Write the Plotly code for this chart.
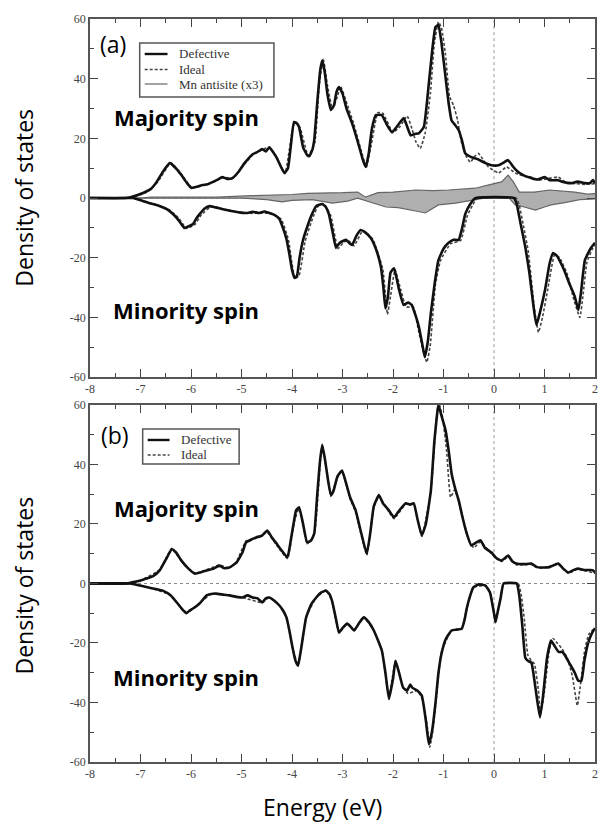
import plotly.graph_objects as go

# ---------------- data ----------------
# Panel (a) majority spin, defective
a_maj_def_E = [-8.0, -7.3, -7.2, -6.95, -6.8, -6.68, -6.55, -6.42, -6.3, -6.19, -6.08, -5.99, -5.88, -5.77, -5.67,
               -5.57, -5.47, -5.38, -5.28, -5.18, -5.05, -4.94, -4.85, -4.78, -4.68, -4.59, -4.52, -4.45, -4.38,
               -4.31, -4.22, -4.15, -4.08, -4.02, -3.96, -3.9, -3.86, -3.78, -3.70, -3.66, -3.6, -3.56, -3.5,
               -3.44, -3.40, -3.35, -3.3, -3.23, -3.17, -3.12, -3.07, -3.0, -2.92, -2.81, -2.7, -2.6, -2.54,
               -2.48, -2.42, -2.34, -2.22, -2.12, -2.02, -1.92, -1.79, -1.72, -1.65, -1.57, -1.49, -1.39, -1.29,
               -1.22, -1.16, -1.10, -1.04, -0.96, -0.9, -0.84, -0.77, -0.70, -0.63, -0.57, -0.45, -0.32, -0.17,
               -0.05, 0.09, 0.18, 0.28, 0.38, 0.48, 0.6, 0.74, 0.85, 1.01, 1.1, 1.27, 1.35, 1.53, 1.65, 1.80,
               1.9, 1.96, 2.0]
a_maj_def_D = [0, 0, 0.3, 1.7, 3, 5.4, 9, 11.7, 10, 7.7, 5, 3.4, 3.8, 4.4, 4.6,
               5.4, 6.2, 7, 6.4, 6.7, 9, 11.7, 13.5, 14.7, 15.5, 16.4, 15.6, 17, 15.5,
               13.7, 10.5, 8.4, 10, 18, 25.5, 25, 23.8, 17, 14.4, 14, 16, 19.4, 32,
               43, 46.2, 42, 35, 29.5, 31, 35.5, 37.2, 35, 30, 25, 19, 13, 10.4,
               15, 23, 27.8, 27.8, 24.5, 22, 24, 26.8, 24, 21, 21.5, 21.7, 23.8, 38.5,
               50, 57.3, 58, 52, 40.5, 32, 26, 24.5, 22.8, 19, 15, 13.7, 13, 11.7,
               11, 11, 11.8, 12.7, 10.5, 8.7, 7.5, 6.7, 6.2, 7, 6, 6, 5.5, 5, 5.5, 5,
               5, 6, 5]

# Panel (a) majority spin, ideal
a_maj_id_E = [-8.0, -7.25, -7.1, -6.9, -6.66, -6.4, -6.18, -5.98, -5.76, -5.56, -5.37, -5.17, -4.93, -4.77,
              -4.58, -4.44, -4.3, -4.14, -4.0, -3.94, -3.84, -3.68, -3.55, -3.46, -3.38, -3.3, -3.2, -3.1,
              -3.04, -2.9, -2.78, -2.6, -2.53, -2.44, -2.3, -2.2, -2.0, -1.86, -1.72, -1.62, -1.55, -1.46,
              -1.36, -1.26, -1.18, -1.1, -1.04, -0.96, -0.88, -0.8, -0.72, -0.64, -0.55, -0.47, -0.38, -0.31,
              -0.2, -0.11, 0.0, 0.09, 0.25, 0.42, 0.6, 0.74, 0.9, 1.05, 1.27, 1.45, 1.62, 1.8, 2.0]
a_maj_id_D = [0, 0, 0.6, 1.8, 5.4, 11.8, 7.8, 3.4, 4.3, 5.3, 7, 6.6, 11.6, 14.6,
              16.3, 17, 13.6, 8.2, 22, 25.5, 23.5, 14.2, 18.5, 38, 46.5, 38, 30, 34,
              37.5, 31, 25, 14, 10.2, 17, 28.6, 28.4, 22, 24, 27.5, 23, 19, 16.6,
              22, 35, 52, 59, 57, 48, 34, 31, 26, 18.4, 14, 12, 14, 15,
              12.5, 10.4, 9.2, 8.4, 10.4, 8.4, 7.3, 7, 6, 6.5, 7, 5, 4.8, 4.6, 4.8]

# Panel (a) minority spin, defective
a_min_def_E = [-8.0, -7.2, -7.15, -6.98, -6.82, -6.65, -6.48, -6.38, -6.28, -6.2, -6.13, -6.05, -5.96, -5.9,
               -5.83, -5.73, -5.63, -5.55, -5.44, -5.3, -5.18, -5.05, -4.90, -4.78, -4.65, -4.55, -4.45, -4.35,
               -4.25, -4.18, -4.11, -4.05, -4.0, -3.95, -3.90, -3.85, -3.78, -3.72, -3.62, -3.52, -3.40, -3.33,
               -3.27, -3.2, -3.13, -3.08, -3.03, -2.93, -2.87, -2.81, -2.72, -2.64, -2.55, -2.44, -2.34, -2.24,
               -2.19, -2.15, -2.1, -2.05, -1.98, -1.94, -1.89, -1.79, -1.70, -1.63, -1.56, -1.49, -1.42, -1.37,
               -1.31, -1.25, -1.17, -1.10, -1.0, -0.90, -0.80, -0.70, -0.63, -0.57, -0.47, -0.37, 0.40, 0.45,
               0.52, 0.62, 0.7, 0.78, 0.84, 0.9, 1.01, 1.1, 1.17, 1.25, 1.33, 1.41, 1.5, 1.6, 1.67, 1.72,
               1.80, 1.92, 2.0]
a_min_def_D = [0, 0, 0, -0.8, -1.7, -2.5, -3.7, -5, -6.7, -8.5, -10, -9.5, -8.7, -7,
               -5.4, -3.5, -2.7, -3, -3.4, -4, -4.4, -4.8, -5, -4.6, -5, -4.5, -5, -5.6,
               -7, -10, -13.7, -19, -24, -26.8, -26, -20, -14, -10.7, -6, -2.7, -2, -3,
               -5.4, -11, -16.7, -15.5, -14.7, -14, -15, -15.7, -12.5, -10.7, -11.5, -13.4, -17, -23,
               -30, -37, -33, -25, -23.5, -26, -30, -35.8, -35, -35.8, -39, -43, -49, -53.3,
               -48, -38.5, -28, -20.8, -17, -15, -14, -14, -10, -5.4, -2, 0, 0, -2,
               -8, -16.4, -25, -36, -42.5, -39, -30.8, -22, -18.4, -19.5, -22, -25, -29, -33, -37.5, -32,
               -20.8, -16.7, -15]

# Panel (a) minority spin, ideal
a_min_id_E = [-8.0, -7.15, -6.95, -6.78, -6.44, -6.24, -6.09, -5.92, -5.79, -5.59, -5.4, -5.14, -4.86, -4.61,
              -4.41, -4.21, -4.07, -4.0, -3.94, -3.86, -3.74, -3.58, -3.46, -3.36, -3.23, -3.09, -2.99, -2.89,
              -2.77, -2.6, -2.4, -2.2, -2.11, -2.05, -1.96, -1.85, -1.74, -1.6, -1.5, -1.42, -1.33, -1.26,
              -1.16, -1.06, -0.86, -0.66, -0.53, -0.42, -0.33, 0.44, 0.5, 0.58, 0.68, 0.8, 0.88, 0.96,
              1.06, 1.2, 1.3, 1.45, 1.58, 1.7, 1.76, 1.84, 1.95, 2.0]
a_min_id_D = [0, 0, -0.9, -1.8, -3.8, -6.8, -10.2, -8.8, -5.5, -2.8, -3.5, -4.5, -5.1, -5.1,
              -5.1, -7.2, -14, -22, -27, -26, -14.5, -6.2, -2.1, -2.2, -6, -17, -15, -14.2,
              -16, -11, -13.8, -24, -39, -33, -24, -30.5, -36.5, -36.5, -44, -50, -55, -49,
              -29, -21, -15.3, -14.2, -6, -2.2, 0, 0, -2.4, -9, -18, -37, -45, -40,
              -31, -19, -20, -25.5, -34, -40, -33, -21.5, -17, -15.5]

# Panel (a) Mn antisite (x3)
a_mn_maj_E = [-8.0, -7.0, -6.8, -6.2, -5.5, -4.8, -4.3, -4.0, -3.7, -3.4, -3.0, -2.7, -2.54, -2.3, -2.0, -1.55,
              -1.2, -0.9, -0.6, -0.37, -0.1, 0.15, 0.28, 0.38, 0.5, 0.8, 1.1, 1.4, 1.6, 1.85, 2.0]
a_mn_maj_D = [0, 0, 0.3, 0.2, 0.3, 0.8, 1.0, 1.2, 1.6, 1.6, 1.8, 2.0, 0.3, 1.8, 2.0, 2.7,
              2.5, 2.7, 3.0, 3.3, 4.4, 5.4, 7.7, 5.5, 2.0, 2.0, 2.7, 2.3, 2.0, 1.3, 1.5]
a_mn_min_E = [-8.0, -5.0, -4.5, -4.2, -4.0, -3.6, -3.2, -2.9, -2.7, -2.4, -2.14, -1.9, -1.69, -1.5, -1.36,
              -1.2, -1.1, -0.76, -0.4, -0.2, 0.3, 0.42, 0.6, 0.82, 1.0, 1.13, 1.4, 1.7, 2.0]
a_mn_min_D = [0, 0, -0.5, -1.3, -0.8, -0.5, -1.7, -1.0, 0, -1.5, -3.0, -3.2, -4.0, -4.5, -5.0,
              -3.5, -2.3, -1.7, -0.5, 0, 0, -2.3, -3.0, -4.0, -3.0, -2.3, -1.5, -0.5, -0.3]

# Panel (b) majority spin, defective
b_maj_def_E = [-8.0, -7.25, -7.21, -7.0, -6.88, -6.75, -6.62, -6.5, -6.38, -6.3, -6.19, -6.05, -5.93, -5.8,
               -5.69, -5.55, -5.44, -5.35, -5.24, -5.1, -4.98, -4.91, -4.8, -4.71, -4.6, -4.49, -4.4, -4.31,
               -4.2, -4.09, -4.02, -3.95, -3.92, -3.86, -3.78, -3.70, -3.62, -3.56, -3.5, -3.44, -3.40, -3.35,
               -3.28, -3.23, -3.18, -3.1, -3.01, -2.95, -2.85, -2.74, -2.63, -2.52, -2.45, -2.38, -2.28, -2.2,
               -2.1, -1.98, -1.9, -1.75, -1.66, -1.59, -1.52, -1.43, -1.35, -1.25, -1.18, -1.12, -1.10, -1.05,
               -0.96, -0.90, -0.84, -0.77, -0.70, -0.62, -0.54, -0.45, -0.35, -0.27, -0.18, -0.05, 0.05, 0.15,
               0.28, 0.36, 0.44, 0.6, 0.74, 0.85, 0.93, 1.1, 1.27, 1.37, 1.47, 1.57, 1.66, 1.8, 1.95, 2.0]
b_maj_def_D = [0, 0, 0.2, 1, 1.7, 2.5, 4.4, 8, 11.5, 10.5, 7.7, 5, 3.4, 3.8,
               4.4, 5, 6, 5.2, 5.4, 7, 10.5, 13.8, 14.8, 15.5, 16, 17.8, 15.5, 13.5,
               11, 8.8, 15, 22, 24.6, 25.6, 20, 13.8, 14.5, 16.8, 30, 42, 46.5, 42,
               34, 29.7, 31, 36, 38, 35, 29, 24.6, 17, 10, 17, 26, 29.7, 27,
               25, 22.2, 24, 27, 26.5, 27, 22, 16.2, 20, 31.3, 48, 58, 60, 57,
               51.6, 45, 37, 32, 28, 22, 16.8, 12.8, 13.8, 14.5, 12, 10.4, 8.5, 7.7,
               9.4, 7.5, 6.7, 6.5, 6.7, 5.5, 5.4, 5.5, 6.7, 5, 3.7, 4.5, 5, 4.5, 4.5, 3.7]

# Panel (b) majority spin, ideal
b_maj_id_E = [-8.0, -7.25, -7.0, -6.62, -6.38, -6.19, -5.93, -5.69, -5.44, -5.24, -5.1, -4.91, -4.71, -4.49,
              -4.31, -4.09, -3.95, -3.86, -3.70, -3.56, -3.44, -3.40, -3.28, -3.23, -3.1, -3.01, -2.85, -2.74,
              -2.52, -2.38, -2.28, -2.1, -1.98, -1.75, -1.59, -1.43, -1.25, -1.12, -1.08, -1.02, -0.94, -0.86,
              -0.78, -0.7, -0.6, -0.5, -0.4, -0.27, -0.05, 0.15, 0.28, 0.44, 0.74, 0.93, 1.27, 1.47, 1.66, 2.0]
b_maj_id_D = [0, 0, 1, 4.6, 11.8, 7.5, 3.2, 4.6, 6.2, 5.2, 7.3, 14.3, 15.2, 17.2,
              13, 8.4, 21, 25.2, 13.4, 16.4, 41, 46.8, 34, 29.3, 35.6, 37.6, 28.5, 24,
              9.6, 25.5, 29.3, 24.6, 21.8, 26.6, 26.6, 15.8, 31, 58.5, 60, 56, 45, 29,
              31.5, 27.5, 21, 14.5, 12, 14, 10, 7.4, 9, 6.3, 6.4, 5.1, 6.4, 3.4, 4.8, 3.4]

# Panel (b) minority spin, defective
b_min_def_E = [-8.0, -7.2, -7.01, -6.8, -6.56, -6.4, -6.28, -6.18, -6.09, -6.02, -5.96, -5.83, -5.69, -5.6,
               -5.50, -5.35, -5.24, -5.1, -4.98, -4.88, -4.78, -4.68, -4.59, -4.52, -4.45, -4.35, -4.25, -4.18,
               -4.11, -4.05, -3.99, -3.93, -3.88, -3.82, -3.72, -3.62, -3.52, -3.42, -3.33, -3.26, -3.21, -3.14,
               -3.07, -3.0, -2.91, -2.84, -2.77, -2.68, -2.58, -2.48, -2.38, -2.3, -2.22, -2.15, -2.08, -2.0,
               -1.95, -1.88, -1.80, -1.72, -1.66, -1.62, -1.52, -1.43, -1.35, -1.29, -1.23, -1.16, -1.1, -1.04,
               -0.95, -0.84, -0.74, -0.64, -0.58, -0.54, -0.47, -0.41, -0.3, -0.17, -0.08, 0.0, 0.03, 0.08,
               0.13, 0.19, 0.45, 0.5, 0.56, 0.62, 0.67, 0.74, 0.82, 0.91, 0.97, 1.05, 1.13, 1.2, 1.28, 1.35,
               1.41, 1.5, 1.6, 1.67, 1.73, 1.79, 1.86, 1.93, 2.0]
b_min_def_D = [0, 0, -0.7, -1.5, -2.4, -4, -6.4, -8.5, -10, -9, -8.4, -6.7, -4, -3.5,
               -3.4, -3.8, -4, -4.5, -4.7, -4, -4.7, -5, -6.4, -5, -4.7, -5.8, -7.4, -9,
               -11.4, -16, -21.5, -26, -27.6, -22, -11.4, -7, -4.7, -3, -2.4, -3.5, -5.7, -11,
               -16.5, -15, -13.5, -14.5, -15.8, -13.5, -11.4, -13, -15.8, -19, -22.6, -30, -38.8, -32,
               -26, -30, -35, -36, -34, -35, -36, -37.7, -46, -54, -50, -40.4, -30, -23.6,
               -18.5, -15.8, -15.5, -15.2, -12, -8.4, -4, -1.3, -0.3, -0.7, -3, -10, -13, -9,
               -5, 0, 0, -4, -14, -25, -26, -26.6, -35, -45, -38, -25, -19.2, -21, -23, -23,
               -24.3, -27, -30, -32.7, -32.7, -26, -20.2, -17, -15]

# Panel (b) minority spin, ideal
b_min_id_E = [-8.0, -7.2, -6.8, -6.4, -6.09, -5.83, -5.6, -5.24, -4.98, -4.59, -4.45, -4.25, -4.11, -3.99,
              -3.88, -3.72, -3.52, -3.33, -3.21, -3.07, -2.91, -2.77, -2.58, -2.38, -2.22, -2.08, -1.95, -1.8,
              -1.7, -1.52, -1.43, -1.33, -1.27, -1.2, -1.14, -1.04, -0.84, -0.64, -0.54, -0.41, -0.17, -0.08,
              0.0, 0.03, 0.13, 0.19, 0.48, 0.54, 0.6, 0.67, 0.74, 0.8, 0.88, 0.92, 1.0, 1.1, 1.17, 1.25,
              1.35, 1.45, 1.55, 1.65, 1.72, 1.8, 1.88, 2.0]
b_min_id_D = [0, 0, -1.5, -4, -10, -6.7, -3.5, -4, -4.7, -6.4, -4.7, -7.4, -11.4, -21.5,
              -27.6, -11.4, -4.7, -2.4, -5.7, -16.5, -13.5, -15.8, -11.4, -15.8, -22.6, -38, -26, -35,
              -37, -36, -38.5, -47, -55, -48, -38, -23, -15.8, -15.2, -8.4, -1.3, -0.7, -3,
              -10, -13, -5, 0, 0, -4, -12, -24, -26, -27, -36, -44, -36, -22, -18.5, -20,
              -22, -25, -31, -41, -33, -22, -17, -15]

x_ticks = [-8, -7, -6, -5, -4, -3, -2, -1, 0, 1, 2]
x_tick_text = ["-8", "-7", "-6", "-5", "-4", "-3", "-2", "-1", "0", "1", "2"]
x_minor = [-7.5, -6.5, -5.5, -4.5, -3.5, -2.5, -1.5, -0.5, 0.5, 1.5]
y_ticks = [-60, -40, -20, 0, 20, 40, 60]
y_tick_text = ["-60", "-40", "-20", "0", "20", "40", "60"]
y_minor = [-50, -30, -10, 10, 30, 50]

legend_a_names = ["Defective", "Ideal", "Mn antisite (x3)"]
legend_b_names = ["Defective", "Ideal"]

# ---------------- figure ----------------
fig = go.Figure()

DEF = dict(color="#111111", width=2.6, shape="spline", smoothing=0.4)
IDL = dict(color="#444444", width=1.6, dash="3px,2px", shape="spline", smoothing=0.4)
MN = dict(color="#666666", width=1.2)
MNFILL = "rgb(175,175,175)"

# Panel (a)
fig.add_trace(go.Scatter(x=a_mn_maj_E, y=a_mn_maj_D, mode="lines", line=MN, fill="tozeroy",
                         fillcolor=MNFILL, name=legend_a_names[2], xaxis="x", yaxis="y"))
fig.add_trace(go.Scatter(x=a_mn_min_E, y=a_mn_min_D, mode="lines", line=MN, fill="tozeroy",
                         fillcolor=MNFILL, name=legend_a_names[2], xaxis="x", yaxis="y"))
fig.add_trace(go.Scatter(x=a_maj_id_E, y=a_maj_id_D, mode="lines", line=IDL, name=legend_a_names[1],
                         xaxis="x", yaxis="y"))
fig.add_trace(go.Scatter(x=a_min_id_E, y=a_min_id_D, mode="lines", line=IDL, name=legend_a_names[1],
                         xaxis="x", yaxis="y"))
fig.add_trace(go.Scatter(x=a_maj_def_E, y=a_maj_def_D, mode="lines", line=DEF, name=legend_a_names[0],
                         xaxis="x", yaxis="y"))
fig.add_trace(go.Scatter(x=a_min_def_E, y=a_min_def_D, mode="lines", line=DEF, name=legend_a_names[0],
                         xaxis="x", yaxis="y"))

# Panel (b)
fig.add_trace(go.Scatter(x=b_maj_id_E, y=b_maj_id_D, mode="lines", line=IDL, name=legend_b_names[1],
                         xaxis="x2", yaxis="y2"))
fig.add_trace(go.Scatter(x=b_min_id_E, y=b_min_id_D, mode="lines", line=IDL, name=legend_b_names[1],
                         xaxis="x2", yaxis="y2"))
fig.add_trace(go.Scatter(x=b_maj_def_E, y=b_maj_def_D, mode="lines", line=DEF, name=legend_b_names[0],
                         xaxis="x2", yaxis="y2"))
fig.add_trace(go.Scatter(x=b_min_def_E, y=b_min_def_D, mode="lines", line=DEF, name=legend_b_names[0],
                         xaxis="x2", yaxis="y2"))

tickfont = dict(family="Liberation Serif", size=12, color="#444444")
axis_common = dict(showline=True, linecolor="#555555", linewidth=1.5, mirror="allticks",
                   ticks="inside", ticklen=8, tickwidth=1.2, tickcolor="#444444",
                   showgrid=False, zeroline=False, tickfont=tickfont)

xcommon = dict(axis_common, range=[-8, 2], tickmode="array", tickvals=x_ticks, ticktext=x_tick_text,
               minor=dict(tickmode="array", tickvals=x_minor, ticks="inside", ticklen=4,
                          tickcolor="#444444", tickwidth=1.2))
ycommon = dict(axis_common, range=[-60, 60], tickmode="array", tickvals=y_ticks, ticktext=y_tick_text,
               minor=dict(tickmode="array", tickvals=y_minor, ticks="inside", ticklen=4,
                          tickcolor="#444444", tickwidth=1.2))

fig.update_layout(
    width=601, height=825,
    margin=dict(l=90, r=3, t=19, b=63),
    paper_bgcolor="white", plot_bgcolor="white",
    xaxis=dict(xcommon, anchor="y", domain=[0, 1]),
    yaxis=dict(ycommon, anchor="x", domain=[0.518, 1]),
    xaxis2=dict(xcommon, anchor="y2", domain=[0, 1]),
    yaxis2=dict(ycommon, anchor="x2", domain=[0, 0.4805]),
    showlegend=False,
)

# zero reference lines
for xr, yr in (("x", "y"), ("x2", "y2")):
    fig.add_shape(type="line", xref=xr, yref=yr + " domain", x0=0, x1=0, y0=0, y1=1,
                  line=dict(color="#999999", width=1, dash="dot"), layer="below")
    fig.add_shape(type="line", xref=xr + " domain", yref=yr, x0=0, x1=1, y0=0, y1=0,
                  line=dict(color="#888888", width=1, dash="dot"), layer="below")

# compact legend boxes (drawn as frame + sample lines + labels)
leg_font = dict(family="Liberation Serif", size=13, color="#333333")
leg_styles = [dict(color="#111111", width=2.4), dict(color="#444444", width=1.5, dash="3px,2px"),
              dict(color="#666666", width=1.2)]
legend_specs = [
    (legend_a_names, (0.0984, 0.3642, 0.895, 0.9677), [0.9529, 0.9320, 0.9125], (0.1083, 0.1535), 0.1713),
    (legend_b_names, (0.1043, 0.2953, 0.4011, 0.4482), [0.4334, 0.4132], (0.1142, 0.1575), 0.1772),
]
for names, box, ys, (lx0, lx1), tx in legend_specs:
    fig.add_shape(type="rect", xref="paper", yref="paper", x0=box[0], x1=box[1], y0=box[2], y1=box[3],
                  line=dict(color="#555555", width=1.5), fillcolor="white", layer="above")
    for name, yy, st in zip(names, ys, leg_styles):
        fig.add_shape(type="line", xref="paper", yref="paper", x0=lx0, x1=lx1, y0=yy, y1=yy, line=st)
        fig.add_annotation(xref="paper", yref="paper", x=tx, y=yy, text=name, showarrow=False,
                           xanchor="left", yanchor="middle", font=leg_font)

# annotations
lab_font = dict(family="Open Sans", size=23, color="black")
bold_font = dict(family="Open Sans", size=22, color="black")
side_font = dict(family="Open Sans", size=23, color="black")
annots = [
    dict(text="(a)", x=0.016, y=0.966, xanchor="left", yanchor="middle", font=lab_font),
    dict(text="(b)", x=0.018, y=0.440, xanchor="left", yanchor="middle", font=lab_font),
    dict(text="<b>Majority spin</b>", x=0.191, y=0.868, xanchor="center", yanchor="middle", font=bold_font),
    dict(text="<b>Minority spin</b>", x=0.191, y=0.608, xanchor="center", yanchor="middle", font=bold_font),
    dict(text="<b>Majority spin</b>", x=0.191, y=0.342, xanchor="center", yanchor="middle", font=bold_font),
    dict(text="<b>Minority spin</b>", x=0.191, y=0.114, xanchor="center", yanchor="middle", font=bold_font),
    dict(text="Density of states", x=-0.130, y=0.760, textangle=-90, xanchor="center", yanchor="middle",
         font=side_font),
    dict(text="Density of states", x=-0.130, y=0.238, textangle=-90, xanchor="center", yanchor="middle",
         font=side_font),
    dict(text="Energy (eV)", x=0.461, y=-0.061, xanchor="center", yanchor="middle",
         font=dict(family="Open Sans", size=23, color="black")),
]
for a in annots:
    fig.add_annotation(xref="paper", yref="paper", showarrow=False, **a)

fig.write_html("out.html")
